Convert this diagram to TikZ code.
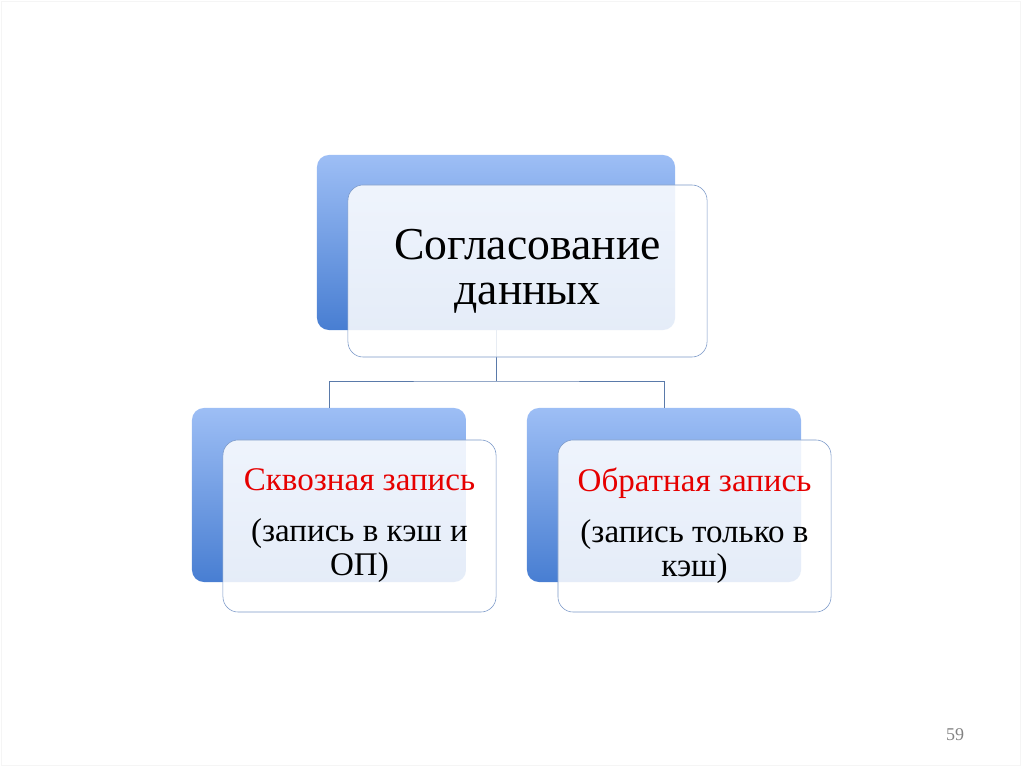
\documentclass[tikz,border=0pt]{standalone}
\usepackage{fontspec}
\setmainfont{Liberation Serif}
\usepackage{tikz}
\definecolor{grad_top}{RGB}{157,190,245}
\definecolor{grad_bot}{RGB}{72,126,210}
\definecolor{edge_blue}{RGB}{122,152,200}
\definecolor{line_blue}{RGB}{90,122,170}
\definecolor{text_red}{RGB}{230,0,0}
\definecolor{num_gray}{RGB}{130,130,130}

\begin{document}
\begin{tikzpicture}[x=0.025cm,y=-0.025cm,thin]
    \tikzstyle{back}=[rounded corners=0.3cm, top color=grad_top, bottom color=grad_bot, draw=none, inner sep=0pt]
    \tikzstyle{front}=[rounded corners=0.38cm, draw=edge_blue, fill=white, fill opacity=0.86, text opacity=1, text=black, align=center, inner sep=0pt]
    \tikzstyle{big}=[front, minimum width=8.975cm, minimum height=4.3cm, font=\fontsize{32.5}{32}\selectfont]
    \tikzstyle{small}=[front, minimum width=6.825cm, minimum height=4.3cm, font=\fontsize{23.5}{24.2}\selectfont]

    \useasboundingbox (0,0) rectangle (1024,767);
    \draw[black!4] (1.5,1.5) rectangle (1020,765);

    \node[back, minimum width=8.95cm, minimum height=4.375cm] (tb) at (496,242.5) {};
    \node[back, minimum width=6.85cm, minimum height=4.35cm]  (lb) at (329,495)   {};
    \node[back, minimum width=6.85cm, minimum height=4.35cm]  (rb) at (664,495)   {};
    \coordinate (j) at (496,381);

    \path[draw=line_blue]
     (tb.south) -- (j)
     (lb.north) |- (j) -| (rb.north)
     ;

    \node[big]   (t) at (527.5,271) {Согласование\\данных};
    \node[small] (l) at (359.5,526) {\textcolor{text_red}{Сквозная запись}\\[12pt](запись в кэш и\\ОП)};
    \node[small] (r) at (694.5,526) {\textcolor{text_red}{Обратная запись}\\[12pt](запись только в\\кэш)};

    \node[text=num_gray, font=\fontsize{12.8}{14}\selectfont] (p) at (955,735) {59};
\end{tikzpicture}
\end{document}
